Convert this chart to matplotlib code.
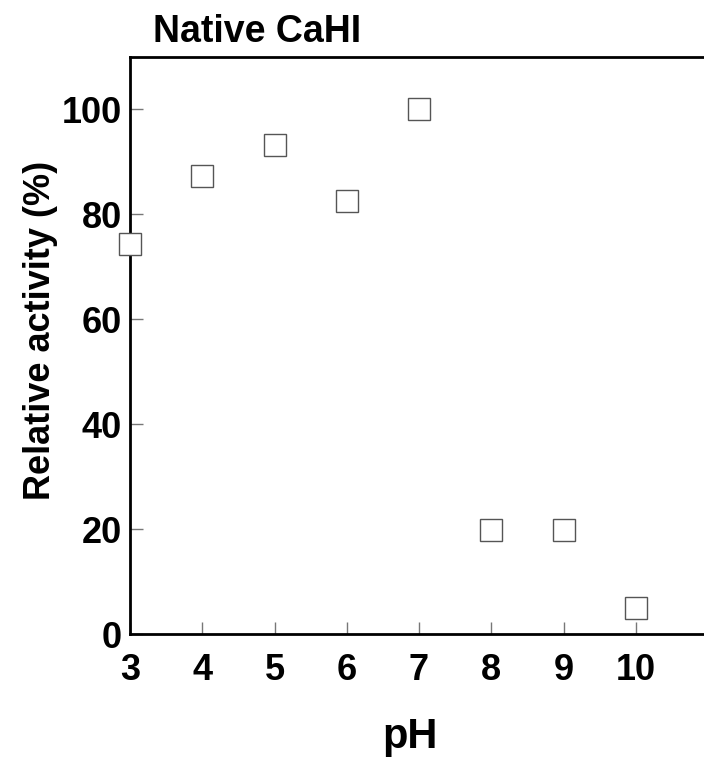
import matplotlib
matplotlib.use("Agg")
import matplotlib.pyplot as plt

ph = [3, 4, 5, 6, 7, 8, 9, 10]
actividad = [74.4, 87.4, 93.3, 82.6, 100, 19.8, 19.8, 5.0]
ticks_x = [3, 4, 5, 6, 7, 8, 9, 10]
ticks_y = [0, 20, 40, 60, 80, 100]

plt.rcParams["font.family"] = ["Liberation Sans", "DejaVu Sans"]
plt.rcParams["font.weight"] = "bold"

fig = plt.figure(figsize=(7.04, 7.61), dpi=100)
ax = fig.add_axes([130 / 704, 1 - 634 / 761, 578 / 704, 577 / 761])

ax.plot(ph, actividad, linestyle="none", marker="s", markersize=15.5,
        markerfacecolor="white", markeredgecolor="#555555", markeredgewidth=1.0,
        clip_on=False, zorder=3)

ax.set_xlim(3, 11)
ax.set_ylim(0, 110)
ax.set_xticks(ticks_x)
ax.set_yticks(ticks_y)
ax.tick_params(direction="in", length=9, width=1, color="#777777",
               labelsize=26)
ax.tick_params(axis="x", pad=14)
ax.tick_params(axis="y", pad=6)

for s in ax.spines.values():
    s.set_linewidth(2)
    s.set_color("black")

ax.set_xlabel("pH", fontsize=30, fontweight="bold", va="baseline")
ax.xaxis.set_label_coords(410 / 704, 1 - 748 / 761, transform=fig.transFigure)
ax.set_ylabel("Relative activity (%)", fontsize=26, fontweight="bold", va="baseline")
ax.yaxis.set_label_coords(50 / 704, 1 - 330 / 761, transform=fig.transFigure)
fig.text(153 / 704, 1 - 32 / 761, "Native CaHI", fontsize=27,
         fontweight="bold", va="center", ha="left")

fig.savefig("out.png", dpi=100)
